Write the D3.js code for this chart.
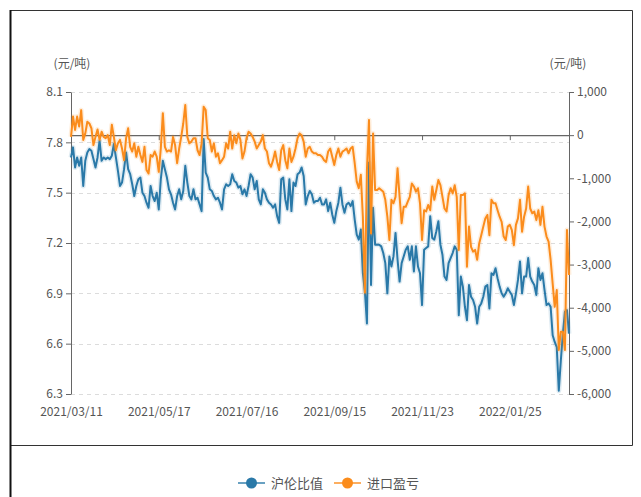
<!DOCTYPE html>
<html><head><meta charset="utf-8">
<script src="https://cdn.jsdelivr.net/npm/d3@7"></script>
<style>
body{margin:0;background:#fff}
text{font-family:"Noto Sans CJK SC","Noto Sans",sans-serif}
</style>
</head><body><svg id="c" width="641" height="497"></svg>
<script>
const seriesNames = ["沪伦比值", "进口盈亏"];
const ratio = [
7.71,7.77,7.65,7.71,7.66,7.71,7.54,7.69,7.74,7.76,
7.75,7.70,7.65,7.71,7.81,7.69,7.71,7.70,7.71,7.70,
7.72,7.79,7.71,7.63,7.54,7.56,7.64,7.74,7.64,7.61,
7.55,7.48,7.54,7.58,7.59,7.50,7.48,7.44,7.41,7.54,
7.48,7.45,7.50,7.40,7.58,7.69,7.64,7.59,7.52,7.49,
7.44,7.40,7.48,7.52,7.46,7.51,7.66,7.56,7.48,7.46,
7.52,7.46,7.47,7.43,7.39,7.82,7.62,7.59,7.52,7.51,
7.48,7.46,7.47,7.44,7.40,7.52,7.55,7.54,
7.55,7.61,7.57,7.56,7.53,7.54,7.49,7.52,7.48,7.54,
7.61,7.59,7.52,7.57,7.46,7.43,7.52,7.50,7.46,7.44,
7.43,7.41,7.43,7.36,7.32,7.58,7.59,7.46,7.40,7.58,
7.39,7.56,7.54,7.61,7.62,7.65,7.60,7.43,7.48,7.51,
7.49,7.44,7.45,7.45,7.47,7.43,7.43,7.46,7.39,7.44,
7.37,7.32,7.39,7.44,7.53,7.43,7.38,7.43,7.44,7.42,
7.45,7.34,
7.25,7.22,7.28,7.02,6.91,6.72,7.68,6.95,7.41,7.19,
7.19,7.19,7.18,7.14,7.08,6.90,7.12,7.06,7.12,7.26,
7.10,6.97,7.08,7.12,7.16,7.18,7.10,7.18,7.03,7.18,
7.06,7.02,6.83,7.16,7.17,7.18,7.36,7.23,7.22,7.27,
7.33,7.19,7.13,7.00,6.98,7.08,7.11,7.14,7.18,7.16,
6.77,7.00,6.94,6.82,6.74,6.95,
6.88,6.86,6.82,6.72,6.82,6.84,6.88,6.94,6.95,6.81,
7.02,7.01,7.05,6.99,6.94,6.90,6.88,6.90,6.93,6.91,
6.89,6.83,6.90,6.98,7.09,6.90,7.00,7.00,7.11,7.00,
6.97,6.95,6.89,7.05,6.98,7.02,6.92,6.83,6.84,6.82,
6.65,6.61,6.58,6.32,6.50,6.66,6.79,6.80,6.66
];
const profit = [
-40,430,120,430,200,580,-110,40,310,270,
160,-230,-40,130,-110,80,-40,-70,0,-230,
240,-40,-350,-190,-110,-310,-580,-70,160,-270,
-380,-190,-500,-270,-460,-620,-270,-810,-890,-460,
-500,-380,-500,-850,-310,510,-270,-380,-350,-380,
-40,-230,-650,-310,-40,270,700,-40,-190,-150,
-70,-70,-350,-460,-190,660,580,-70,-110,-380,
-190,-500,-420,-650,-580,-500,-190,-310,
80,-310,0,-190,40,-110,-540,-380,-70,80,
40,-40,-150,-310,-230,-150,0,-310,-380,-650,
-730,-580,-380,-620,-810,-350,-230,-580,-770,-310,
-620,-500,-310,-70,40,0,-150,-500,-310,-270,
-380,-420,-420,-460,-460,-500,-580,-620,-380,-310,
-500,-690,-460,-310,-500,-380,-350,-310,-420,-310,
-270,-650,
-1080,-1230,-920,-1890,-3650,-800,350,-2280,40,-1270,
-1270,-1230,-1270,-1310,-1500,-1890,-2430,-1500,-1580,-1430,
-770,-1430,-2040,-1660,-1660,-1540,-1430,-1120,-1190,-1310,
-1230,-1580,-2430,-1740,-1770,-1620,-1740,-1190,-1500,-1270,
-1040,-1160,-1430,-1700,-1770,-1390,-1230,-1350,-1160,-1430,
-2660,-1390,-1390,-1350,-3050,-2120,
-2590,-2700,-2660,-2890,-2510,-2320,-2120,-1930,-1850,-2320,
-1500,-1580,-1580,-1740,-1890,-2010,-2350,-2430,-2120,-2080,
-2200,-2550,-2080,-1930,-1500,-2240,-1890,-1700,-1190,-1700,
-1810,-1770,-1970,-1740,-2080,-1660,-2120,-2350,-2470,-2890,
-3440,-3980,-3590,-4980,-4560,-4560,-4980,-2200,-3240
];
const leftTicks = [6.3, 6.6, 6.9, 7.2, 7.5, 7.8, 8.1];
const rightTicks = [-6000, -5000, -4000, -3000, -2000, -1000, 0, 1000];
const xTickLabels = ["2021/03/11", "2021/05/17", "2021/07/16", "2021/09/15", "2021/11/23", "2022/01/25"];
const startDate = "2021-03-11";
const holidays = ["2021-04-05","2021-05-03","2021-05-04","2021-05-05","2021-06-14","2021-09-20","2021-09-21",
  "2021-10-01","2021-10-04","2021-10-05","2021-10-06","2021-10-07","2021-12-31","2022-01-03",
  "2022-01-31","2022-02-01","2022-02-02","2022-02-03","2022-02-04"];
const extraDays = ["2021-10-09"];
const unitLabel = "(元/吨)";
const colors = ["#2a79a8", "#fb8c1c"];

// build trading-day categories
const fmtKey = d3.timeFormat("%Y-%m-%d"), fmtLbl = d3.timeFormat("%Y/%m/%d");
const dates = [];
let day = d3.timeParse("%Y-%m-%d")(startDate);
while (dates.length < ratio.length) {
  const k = fmtKey(day), wd = day.getDay();
  if ((wd !== 0 && wd !== 6 && !holidays.includes(k)) || extraDays.includes(k)) dates.push(fmtLbl(day));
  day = d3.timeDay.offset(day, 1);
}

const svg = d3.select("#c");
const L = 71, R = 569, T = 92, B = 394;
const x = d3.scalePoint().domain(dates).range([L, R]);
const yL = d3.scaleLinear().domain([6.3, 8.1]).range([B, T]);
const yR = d3.scaleLinear().domain([-6000, 1000]).range([B, T]);

// frame
svg.append("path").attr("d", "M10.5,497 V10.5 H632.5 V445.5 H10.5").attr("fill", "none").attr("stroke", "#333").attr("stroke-width", 1);
svg.append("line").attr("x1",10.5).attr("x2",10.5).attr("y1",10).attr("y2",497).attr("stroke","#111").attr("stroke-width",2);

// grid
svg.append("g").selectAll("line").data(leftTicks).join("line")
  .attr("x1", L).attr("x2", R).attr("y1", d => Math.round(yL(d)) + 0.5).attr("y2", d => Math.round(yL(d)) + 0.5)
  .attr("stroke", "#dcdcdc").attr("stroke-dasharray", "4,4");

// left axis
const gl = svg.append("g").attr("transform", `translate(${L},0)`)
  .call(d3.axisLeft(yL).tickValues(leftTicks).tickFormat(d3.format(".1f")).tickSize(5).tickSizeOuter(0).tickPadding(3));
// right axis
const gr = svg.append("g").attr("transform", `translate(${R},0)`)
  .call(d3.axisRight(yR).tickValues(rightTicks).tickFormat(d => d3.format(",")(d).replace("\u2212", "-")).tickSize(5).tickSizeOuter(0).tickPadding(3));
[gl, gr].forEach(g => {
  g.select(".domain").attr("stroke", "#666");
  g.selectAll(".tick line").attr("stroke", "#666");
  g.selectAll("text").attr("fill", "#555").style("font-size", "12px");
});

const tickDates = dates.filter(d => xTickLabels.includes(d));
// x axis line on zero
const gz = svg.append("g").attr("transform", `translate(0,${yR(0)})`)
  .call(d3.axisBottom(x).tickValues(tickDates).tickFormat("").tickSize(5).tickSizeOuter(0));
gz.select(".domain").attr("stroke", "#666").attr("stroke-width", 1.3);
gz.selectAll(".tick line").attr("stroke", "#666");
// x labels at bottom
const gx = svg.append("g").attr("transform", `translate(0,${B})`)
  .call(d3.axisBottom(x).tickValues(tickDates).tickSize(0).tickPadding(13));
gx.select(".domain").remove();
gx.selectAll("text").attr("fill", "#555").style("font-size", "12px");

// unit labels
svg.append("text").attr("x", 72).attr("y", 68).attr("text-anchor", "middle").attr("fill", "#555").style("font-size", "12px").text(unitLabel);
svg.append("text").attr("x", 568).attr("y", 68).attr("text-anchor", "middle").attr("fill", "#555").style("font-size", "12px").text(unitLabel);

// lines
const lineL = d3.line().x((d, i) => x(dates[i])).y(d => yL(d));
const lineR = d3.line().x((d, i) => x(dates[i])).y(d => yR(d));
[[ratio, lineL, colors[0]], [profit, lineR, colors[1]]].forEach(([data, gen, c]) => {
  svg.append("path").attr("d", gen(data)).attr("fill", "none").attr("stroke", c).attr("stroke-width", 5).attr("stroke-opacity", 0.15).attr("stroke-linejoin", "round");
  svg.append("path").attr("d", gen(data)).attr("fill", "none").attr("stroke", c).attr("stroke-width", 2).attr("stroke-linejoin", "round");
});

// legend
const lg = svg.append("g");
const legendItems = [{x: 238, tx: 271}, {x: 334, tx: 367}];
legendItems.forEach((p, i) => {
  lg.append("line").attr("x1", p.x).attr("x2", p.x + 27).attr("y1", 483).attr("y2", 483).attr("stroke", colors[i]).attr("stroke-width", 2).attr("stroke-opacity", 0.7);
  lg.append("circle").attr("cx", p.x + 13.5).attr("cy", 483).attr("r", 5.5).attr("fill", colors[i]);
  lg.append("text").attr("x", p.tx).attr("y", 488).attr("fill", "#555").style("font-size", "13px").text(seriesNames[i]);
});
</script>
</body></html>
